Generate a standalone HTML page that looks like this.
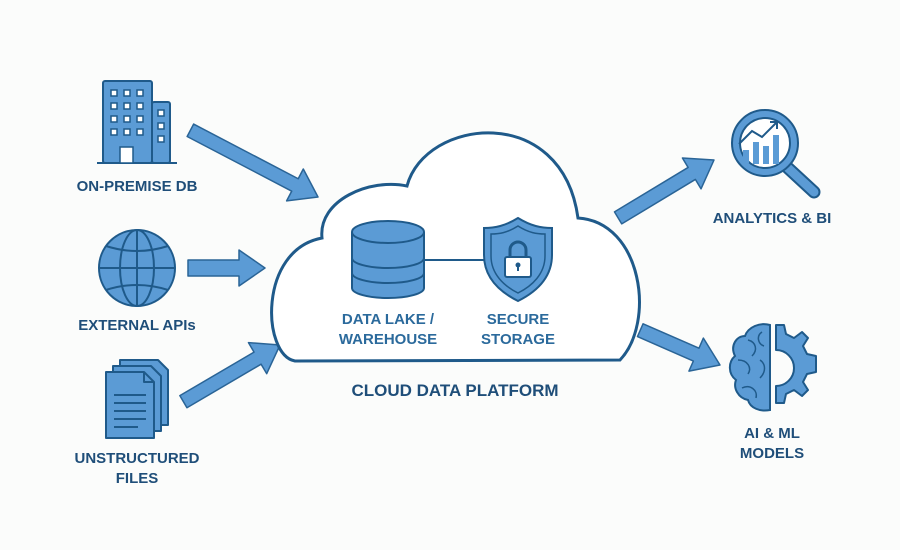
<!DOCTYPE html>
<html><head><meta charset="utf-8"><style>
html,body{margin:0;padding:0;background:#fbfcfb;}
svg{display:block;}
text{font-family:"Liberation Sans",sans-serif;font-weight:bold;text-anchor:middle;}
</style></head><body>
<svg width="900" height="550" viewBox="0 0 900 550" xmlns="http://www.w3.org/2000/svg">
<rect width="900" height="550" fill="#fbfcfb"/>
<g fill="#5b9bd5" stroke="#2a6496" stroke-width="1.5" stroke-linejoin="round">
<g transform="translate(318,197) rotate(27.6)"><polygon points="-144,-7 -26,-7 -26,-18 0,0 -26,18 -26,7 -144,7"/></g>
<g transform="translate(265,268)"><polygon points="-77,-8 -26,-8 -26,-18 0,0 -26,18 -26,8 -77,8"/></g>
<g transform="translate(280,345) rotate(-30.4)"><polygon points="-112,-7 -26,-7 -26,-18 0,0 -26,18 -26,7 -112,7"/></g>
<g transform="translate(714,160) rotate(-31.1)"><polygon points="-112,-7 -26,-7 -26,-18 0,0 -26,18 -26,7 -112,7"/></g>
<g transform="translate(720,365) rotate(23.6)"><polygon points="-87,-7 -26,-7 -26,-18 0,0 -26,18 -26,7 -87,7"/></g>
</g>

<path d="M295 361 C262 355 258 250 322 238 C318 200 370 178 407 186 C425 118 562 102 578 218 C642 222 656 322 620 360 Z" fill="#fff" stroke="#1f5a8a" stroke-width="3"/>

<g fill="#5b9bd5" stroke="#1f5a8a" stroke-width="2">
<path d="M352 232 L352 288 A36 10 0 0 0 424 288 L424 232"/>
<ellipse cx="388" cy="232" rx="36" ry="11"/>
<path d="M352 258 A36 10 0 0 0 424 258" fill="none"/>
<path d="M352 273 A36 10 0 0 0 424 273" fill="none"/>
</g>
<line x1="424" y1="260" x2="484" y2="260" stroke="#1f5a8a" stroke-width="2"/>
<path d="M518 218 C505 226 495 228 484 228 L484 255 C484 278 500 292 518 301 C536 292 552 278 552 255 L552 228 C541 228 531 226 518 218Z" fill="#5b9bd5" stroke="#1f5a8a" stroke-width="2"/>
<path d="M518 226 C507 233 499 234 491 234 L491 256 C491 274 504 286 518 293 C532 286 545 274 545 256 L545 234 C537 234 529 233 518 226Z" fill="none" stroke="#1f5a8a" stroke-width="1.5"/>
<path d="M510 258 L510 250 A8 8 0 0 1 526 250 L526 258" fill="none" stroke="#1f5a8a" stroke-width="3"/>
<rect x="505" y="257" width="26" height="20" rx="2" fill="#fff" stroke="#1f5a8a" stroke-width="2"/>
<circle cx="518" cy="265" r="2.5" fill="#1f5a8a"/><rect x="517" y="265" width="2" height="6" fill="#1f5a8a"/>

<text x="388" y="324" font-size="15" fill="#2b6a9c">DATA LAKE /</text>
<text x="388" y="344" font-size="15" fill="#2b6a9c">WAREHOUSE</text>
<text x="518" y="324" font-size="15" fill="#2b6a9c">SECURE</text>
<text x="518" y="344" font-size="15" fill="#2b6a9c">STORAGE</text>
<text x="455" y="396" font-size="17" fill="#1f4e79">CLOUD DATA PLATFORM</text>

<g fill="#5b9bd5" stroke="#1f5a8a" stroke-width="2">
<rect x="103" y="81" width="49" height="82" rx="2"/>
<rect x="152" y="102" width="18" height="61" rx="2"/>
</g>
<line x1="97" y1="163" x2="177" y2="163" stroke="#1f5a8a" stroke-width="2"/>
<g fill="#fff" stroke="#1f5a8a" stroke-width="1.5">
<rect x="111" y="90" width="6" height="6"/><rect x="124" y="90" width="6" height="6"/><rect x="137" y="90" width="6" height="6"/>
<rect x="111" y="103" width="6" height="6"/><rect x="124" y="103" width="6" height="6"/><rect x="137" y="103" width="6" height="6"/>
<rect x="111" y="116" width="6" height="6"/><rect x="124" y="116" width="6" height="6"/><rect x="137" y="116" width="6" height="6"/>
<rect x="111" y="129" width="6" height="6"/><rect x="124" y="129" width="6" height="6"/><rect x="137" y="129" width="6" height="6"/>
<rect x="158" y="110" width="6" height="6"/><rect x="158" y="123" width="6" height="6"/><rect x="158" y="136" width="6" height="6"/>
<rect x="120" y="147" width="13" height="16"/>
</g>
<text x="137" y="191" font-size="15" fill="#1f4e79">ON-PREMISE DB</text>

<g fill="none" stroke="#1f5a8a" stroke-width="2">
<circle cx="137" cy="268" r="38" fill="#5b9bd5"/>
<ellipse cx="137" cy="268" rx="17" ry="38"/>
<line x1="137" y1="230" x2="137" y2="306"/>
<line x1="99" y1="268" x2="175" y2="268"/>
<path d="M106 246 Q137 256 168 246"/>
<path d="M106 290 Q137 280 168 290"/>
</g>
<text x="137" y="330" font-size="15" fill="#1f4e79">EXTERNAL APIs</text>

<g fill="#5b9bd5" stroke="#1f5a8a" stroke-width="2" stroke-linejoin="round">
<path d="M120 360 L158 360 L168 370 L168 425 L120 425 Z"/>
<path d="M113 366 L151 366 L161 376 L161 431 L113 431 Z"/>
<path d="M106 372 L144 372 L154 382 L154 438 L106 438 Z"/>
<path d="M144 372 L144 382 L154 382" fill="none"/>
</g>
<g stroke="#1f5a8a" stroke-width="2">
<line x1="114" y1="395" x2="146" y2="395"/><line x1="114" y1="403" x2="146" y2="403"/>
<line x1="114" y1="411" x2="146" y2="411"/><line x1="114" y1="419" x2="146" y2="419"/><line x1="114" y1="427" x2="138" y2="427"/>
</g>
<text x="137" y="463" font-size="15" fill="#1f4e79">UNSTRUCTURED</text>
<text x="137" y="483" font-size="15" fill="#1f4e79">FILES</text>

<line x1="788" y1="168" x2="814" y2="192" stroke="#1f5a8a" stroke-width="13" stroke-linecap="round"/>
<line x1="788" y1="168" x2="814" y2="192" stroke="#5b9bd5" stroke-width="9" stroke-linecap="round"/>
<circle cx="765" cy="143" r="33" fill="#5b9bd5" stroke="#1f5a8a" stroke-width="2"/>
<circle cx="765" cy="143" r="25" fill="#fff" stroke="#1f5a8a" stroke-width="2"/>
<g fill="#5b9bd5">
<rect x="743" y="150" width="6" height="13"/><rect x="753" y="142" width="6" height="22"/><rect x="763" y="146" width="6" height="18"/><rect x="773" y="135" width="6" height="29"/>
</g>
<polyline points="739,144 752,131 762,137 776,123" fill="none" stroke="#1f5a8a" stroke-width="2"/>
<polyline points="770,122 777,122 777,129" fill="none" stroke="#1f5a8a" stroke-width="2"/>
<text x="772" y="223" font-size="15" fill="#1f4e79">ANALYTICS &amp; BI</text>

<path d="M770 325 L770 410 C760 412 750 408 748 400 C738 398 733 388 736 380 C728 374 728 362 735 356 C730 346 736 336 745 336 C748 327 760 322 770 325Z" fill="#5b9bd5" stroke="#1f5a8a" stroke-width="2"/>
<g fill="none" stroke="#1f5a8a" stroke-width="1.5">
<path d="M748 340 C756 342 758 350 752 356"/><path d="M738 360 C748 360 752 368 748 374"/>
<path d="M760 360 C766 364 766 372 760 378"/><path d="M742 388 C750 384 758 390 756 398"/><path d="M762 332 C756 336 758 344 764 346"/>
</g>
<path d="M776 325 L784 325 L786 334 L794 338 L802 332 L808 338 L803 346 L807 354 L816 356 L816 364 L816 372 L807 374 L803 382 L808 390 L802 396 L794 390 L786 394 L784 403 L776 403 L776 386 A18 18 0 0 0 776 350 Z" fill="#5b9bd5" stroke="#1f5a8a" stroke-width="2" stroke-linejoin="round"/>
<text x="772" y="438" font-size="15" fill="#1f4e79">AI &amp; ML</text>
<text x="772" y="458" font-size="15" fill="#1f4e79">MODELS</text>
</svg>
</body></html>
